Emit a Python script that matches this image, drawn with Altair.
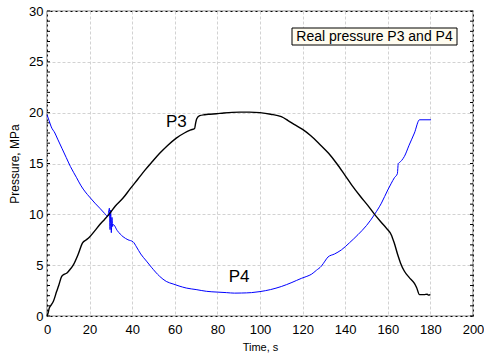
import altair as alt
import pandas as pd

# ---- data ----
p3_time = [0, 0.5, 1.1, 2, 3, 4.5, 5.5, 6.9, 8, 9.2, 10.5, 12.3, 14.5, 16.7, 18.5, 20.1,
           22.5, 24.8, 27, 29.5, 32, 35.7, 39, 42.8, 46, 49.5, 52.9, 56.5, 60.7, 64.5,
           67.5, 69.3, 69.8, 70.3, 71.7, 74, 76.5, 79.5, 83, 87, 90.5, 95, 100, 105, 110,
           113, 116, 120, 124, 128, 132.2, 136, 139.7, 143, 147, 150.5, 153.8, 157, 159.5,
           161.6, 163, 164.7, 166, 167.8, 170, 172.5, 173.5, 174.9, 177, 178.5, 179, 180]
p3_pres = [0, 0.3, 0.8, 1.1, 1.45, 2.4, 3.0, 3.9, 4.1, 4.2, 4.5, 5.0, 6.0, 7.2, 7.5, 7.8,
           8.4, 9.0, 9.5, 10.1, 10.8, 11.6, 12.5, 13.5, 14.35, 15.2, 16.0, 16.75, 17.5, 18.0,
           18.3, 18.45, 19.0, 19.4, 19.7, 19.8, 19.85, 19.9, 19.97, 20.03, 20.05, 20.05, 20.0, 19.85, 19.6,
           19.25, 18.85, 18.35, 17.7, 16.9, 16.0, 15.0, 13.9, 12.9, 11.8, 10.9, 10.0, 9.2, 8.6,
           8.0, 7.2, 6.0, 5.2, 4.4, 3.8, 3.2, 2.8, 2.1, 2.1, 2.15, 2.05, 2.1]

p4_time = [0, 1, 2, 3.7, 5, 7, 9, 11, 13.9, 16, 18, 20, 22.5, 24.8, 27, 28.5, 29.3, 29.6,
           29.9, 30.2, 30.5, 30.8, 31.1, 33, 35.7, 38, 40.4, 42, 44, 46.7, 49, 52.9, 56,
           59.2, 62, 65.4, 70, 74.8, 80, 84.2, 88, 91.3, 96, 100, 105, 110, 115, 119.4,
           122, 124.1, 126.5, 128.8, 130.5, 131.9, 135, 138.2, 142, 146, 150, 153.8, 157,
           160, 161.5, 163.1, 164.5, 164.7, 164.9, 165.5, 166.5, 167.8, 170, 172.5, 174.9,
           177, 180.3]
p4_pres = [19.8, 19.2, 18.6, 18.0, 17.4, 16.5, 15.6, 14.7, 13.6, 12.8, 12.2, 11.7, 11.1,
           10.6, 10.1, 9.8, 10.6, 8.5, 10.4, 8.2, 9.7, 8.8, 9.0, 8.4, 7.8, 7.5, 7.3, 6.8,
           6.1, 5.4, 4.8, 3.9, 3.4, 3.15, 2.95, 2.75, 2.6, 2.43, 2.35, 2.3, 2.25, 2.26, 2.3,
           2.4, 2.6, 2.9, 3.3, 3.7, 3.9, 4.1, 4.5, 4.9, 5.4, 5.8, 6.1, 6.5, 7.2, 8.0, 8.9,
           10.0, 11.1, 12.4, 13.0, 13.6, 14.0, 14.5, 15.0, 15.1, 15.3, 15.7, 16.8, 18.0,
           19.3, 19.3, 19.3]

x_ticks = [0, 20, 40, 60, 80, 100, 120, 140, 160, 180, 200]
y_ticks = [0, 5, 10, 15, 20, 25, 30]
y_minor = list(range(0, 31))

labels_text = ["P3", "P4"]
labels_x = [60.7, 90.2]
labels_y = [19.1, 3.8]

legend_title = "Real pressure P3 and P4"

FONT = "Liberation Sans"
W, H = 426, 305

df3 = pd.DataFrame({"t": p3_time, "p": p3_pres, "i": range(len(p3_time))})
df4 = pd.DataFrame({"t": p4_time, "p": p4_pres, "i": range(len(p4_time))})
dlab = pd.DataFrame({"t": labels_x, "p": labels_y, "txt": labels_text})
dminor = pd.DataFrame({"p": y_minor})

xscale = alt.Scale(domain=[0, 200], nice=False, zero=False)
yscale = alt.Scale(domain=[0, 30], nice=False, zero=False)

xaxis = alt.Axis(values=x_ticks, ticks=False, domain=False, grid=True,
                 gridDash=[3, 2], gridColor="#d2d2d2", gridWidth=1,
                 labelFont=FONT, labelFontSize=13, labelColor="#000", labelPadding=7,
                 title="Time, s", titleFont=FONT, titleFontSize=11, titleFontWeight="normal",
                 titleColor="#000", titlePadding=5, labelFlush=False)
yaxis = alt.Axis(values=y_ticks, ticks=False, domain=False, grid=True,
                 gridDash=[3, 2], gridColor="#d2d2d2", gridWidth=1,
                 labelFont=FONT, labelFontSize=13, labelColor="#000", labelPadding=4,
                 title="Pressure, MPa", titleFont=FONT, titleFontSize=12, titleFontWeight="normal",
                 titleColor="#000", titlePadding=7, labelFlush=False)

base_x = alt.X("t:Q", scale=xscale, axis=xaxis)
base_y = alt.Y("p:Q", scale=yscale, axis=yaxis)

line3 = alt.Chart(df3).mark_line(color="#000000", strokeWidth=1.4, interpolate="monotone").encode(
    x=base_x, y=base_y, order="i:Q")
line4 = alt.Chart(df4).mark_line(color="#0000FF", strokeWidth=1, interpolate="monotone").encode(
    x=alt.X("t:Q", scale=xscale), y=alt.Y("p:Q", scale=yscale), order="i:Q")

ticks_left = alt.Chart(dminor).mark_rule(color="#000", strokeWidth=1).encode(
    y=alt.Y("p:Q", scale=yscale), x=alt.value(0), x2=alt.value(3))
ticks_right = alt.Chart(dminor).mark_rule(color="#000", strokeWidth=1).encode(
    y=alt.Y("p:Q", scale=yscale), x=alt.value(W), x2=alt.value(W - 3))

lab = alt.Chart(dlab).mark_text(font=FONT, fontSize=17, color="#000").encode(
    x=alt.X("t:Q", scale=xscale), y=alt.Y("p:Q", scale=yscale), text="txt:N")

box = alt.Chart(pd.DataFrame({"a": [0]})).mark_rect(
    fill="#FFFCEF", stroke="#000", strokeWidth=1).encode(
    x=alt.value(245), x2=alt.value(410), y=alt.value(17), y2=alt.value(34))
box_text = alt.Chart(pd.DataFrame({"txt": [legend_title]})).mark_text(
    font=FONT, fontSize=14, color="#000").encode(
    x=alt.value(327.5), y=alt.value(26), text="txt:N")

chart = alt.layer(ticks_left, ticks_right, line4, line3, lab, box, box_text).properties(
    width=W, height=H,
    autosize=alt.AutoSizeParams(type="none"),
    padding={"left": 47, "top": 11, "right": 11, "bottom": 41},
    background="#ffffff",
).configure_view(stroke="#000", strokeWidth=1.2)

chart.save("out.html", embed_options={"renderer": "svg", "actions": False})
